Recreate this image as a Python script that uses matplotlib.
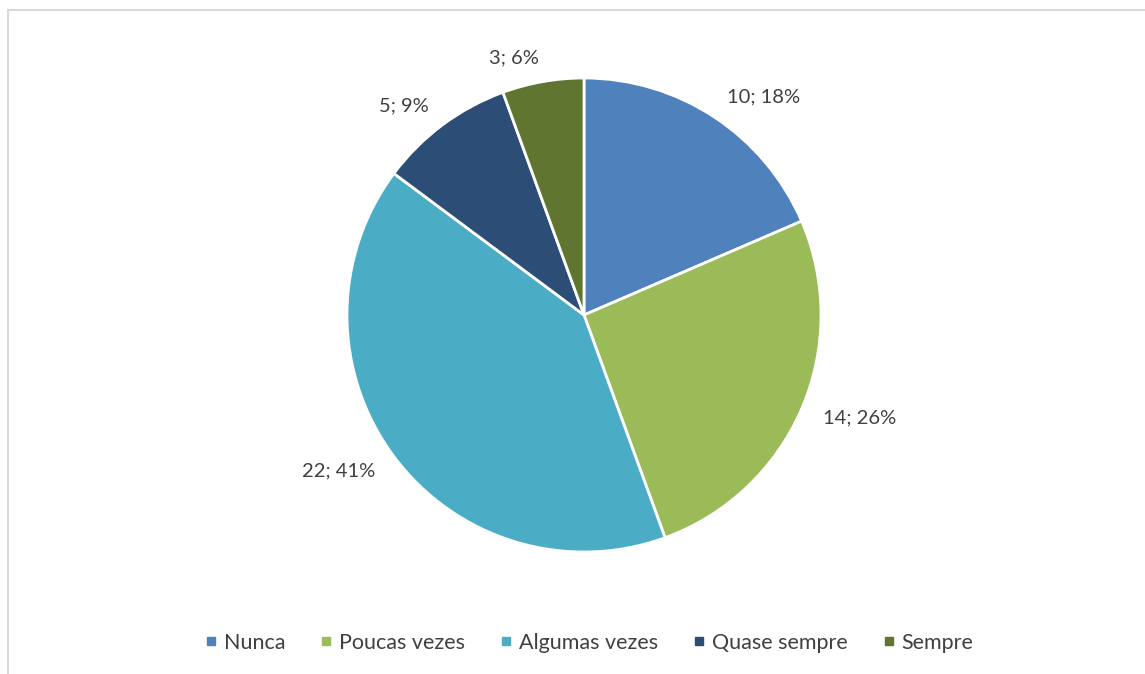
import matplotlib
matplotlib.use("Agg")
import matplotlib.pyplot as plt
from matplotlib.patches import Rectangle
from matplotlib.lines import Line2D

categories = ["Nunca", "Poucas vezes", "Algumas vezes", "Quase sempre", "Sempre"]
counts = [10, 14, 22, 5, 3]
percents = [18, 26, 41, 9, 6]
colors = ["#4F81BD", "#9BBB59", "#4BACC6", "#2C4D75", "#5F7530"]

plt.rcParams["font.family"] = ["Lato", "DejaVu Sans"]

W, H = 1145, 674
fig = plt.figure(figsize=(W / 100, H / 100), dpi=100)

# light grey frame around the chart area
fig.patches.append(Rectangle((7.5 / W, -0.1), 1.2, 1 - 10.5 / H + 0.1,
                             transform=fig.transFigure, fill=False,
                             edgecolor="#D9D9D9", linewidth=1.5))

cx, cy, r = 584, 674 - 315, 237
ax = fig.add_axes([(cx - r) / W, (cy - r) / H, 2 * r / W, 2 * r / H])
labels = [f"{c}; {p}%" for c, p in zip(counts, percents)]
wedges, texts = ax.pie(counts, colors=colors, startangle=90, counterclock=False,
                       labels=labels, labeldistance=1.1,
                       wedgeprops=dict(edgecolor="white", linewidth=2),
                       textprops=dict(color="#404040", fontsize=14.5))
ax.set_xlim(-1, 1)
ax.set_ylim(-1, 1)
ax.set_aspect("equal")
ax.axis("off")

handles = [Line2D([], [], marker="s", linestyle="none", markersize=6,
                  markerfacecolor=c, markeredgecolor=c) for c in colors]
fig.legend(handles, categories, loc="center", bbox_to_anchor=(589 / W, 31 / H),
           ncol=5, frameon=False, fontsize=15.5, labelcolor="#404040",
           handletextpad=0.3, columnspacing=1.6, handlelength=0.6)

fig.savefig("out.png", dpi=100)
